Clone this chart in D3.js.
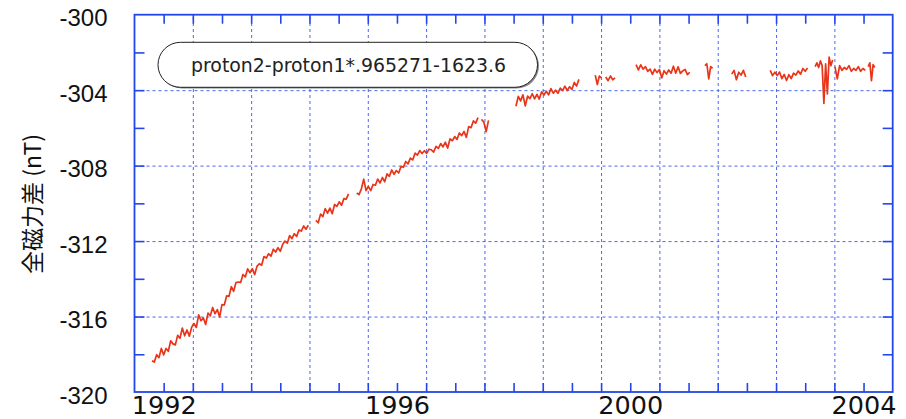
<!DOCTYPE html>
<html>
<head>
<meta charset="utf-8">
<script src="https://cdn.jsdelivr.net/npm/d3@7"></script>
<style>
  body { margin: 0; background: #fff; }
  svg { display: block; }
</style>
</head>
<body>
<div id="chart"></div>
<script>
// Chart data: total-field difference (nT), each run is start year, step (yr), values
var segA = [-318.35, -318.41, -318.02, -318.18, -317.69, -318.03, -317.69, -317.84, -317.29, -317.45,
            -317.50, -317.00, -317.15, -316.61, -317.02, -316.71, -317.04, -316.57, -316.37, -316.58,
            -315.91, -316.22, -316.07, -316.42, -315.82, -315.96, -315.52, -315.85, -315.63, -316.02,
            -315.37, -315.39, -314.90, -314.93, -314.42, -314.66, -314.20, -314.17, -314.19, -313.77,
            -313.90, -313.47, -313.68, -313.46, -313.78, -313.34, -313.20, -313.28, -312.82, -312.90,
            -312.67, -312.80, -312.43, -312.58, -312.35, -312.54, -312.18, -312.00, -312.11, -311.71,
            -311.87, -311.61, -311.75, -311.41, -311.47, -311.20, -311.37, -311.16];
var segB = [-310.90, -311.03, -310.57, -310.70, -310.28, -310.52, -310.25, -310.55, -310.06, -310.16,
            -309.92, -310.10, -309.75, -309.78, -309.50];
var segC = [-309.45, -309.54, -309.23, -308.72, -309.32, -309.10, -309.33, -309.00, -309.04, -308.71,
            -308.92, -308.63, -308.86, -308.44, -308.57, -308.23, -308.46, -308.26, -308.39, -308.04,
            -308.09, -307.78, -307.91, -307.60, -307.70, -307.34, -307.44, -307.20, -307.36, -307.21,
            -307.35, -307.13, -307.16, -307.28, -306.98, -307.09, -306.83, -307.01, -306.76, -307.07,
            -306.58, -306.68, -306.46, -306.61, -306.27, -306.41, -306.19, -306.50, -305.93, -305.99,
            -305.63, -305.75, -305.46];
var segD = [-305.55, -305.70, -306.20, -305.60];
var segE = [-304.85, -304.33, -304.57, -304.25, -304.83, -304.32, -304.45, -304.19, -304.46, -304.22,
            -304.47, -304.09, -304.26, -304.06, -304.25, -303.92, -304.16, -304.00, -304.17, -303.89,
            -304.02, -303.79, -304.02, -303.82, -303.96, -303.59, -303.78, -303.43];
var segF = [-303.20, -303.70, -303.25, -303.35];
var segG = [-303.30, -303.50, -303.25, -303.45, -303.35];
var segH = [-302.65, -302.93, -302.66, -302.89, -302.75, -303.00, -302.88, -303.16, -302.89, -303.07,
            -302.90, -303.35, -302.97, -303.15, -302.93, -303.10, -302.73, -303.10, -302.76, -303.11,
            -302.98, -302.90, -303.18, -303.05];
var segI = [-302.70, -302.60, -303.40, -302.75, -302.85];
var segJ = [-303.15, -302.95, -303.45, -303.05, -303.20, -302.95, -303.30];
var segK = [-302.95, -303.23, -303.05, -303.23, -303.04, -303.39, -303.17, -303.49, -303.18, -303.39,
            -303.10, -303.20, -302.98, -303.15, -302.85, -303.00, -302.82];
var segL = [-302.75, -302.55, -302.80, -302.45, -302.70, -304.70, -302.60, -304.20, -302.25, -302.70, -302.40];
var segM = [-302.75, -303.40, -302.70, -302.95, -302.80, -302.90, -302.70, -303.00, -302.85, -302.95,
            -302.75, -303.00, -302.85, -302.95];
var segN = [-302.75, -302.55, -303.50, -302.65, -302.80];

var segStarts = [1992.30, 1995.11, 1995.81, 1997.95, 1998.54, 1999.90, 2000.08, 2000.60, 2001.78, 2002.24, 2002.90, 2003.67, 2004.01, 2004.58];
var segSteps  = [0.04, 0.04, 0.04, 0.04, 0.04, 0.035, 0.04, 0.04, 0.033, 0.04, 0.04, 0.03, 0.04, 0.028];
var segValues = [segA, segB, segC, segD, segE, segF, segG, segH, segI, segJ, segK, segL, segM, segN];

var yearLabels = [1992, 1996, 2000, 2004];
var yLabels = [-300, -304, -308, -312, -316, -320];
var yGrid = [-304, -308, -312, -316];
var legendText = "proton2-proton1*.965271-1623.6";
var yTitle = "全磁力差 (nT)";

var margin = { top: 14.7, right: 13.3, bottom: 27, left: 134.5 };
var w = 906 - margin.left - margin.right;
var h = 419 - margin.top - margin.bottom;

var blue = "#2346ea";
var gridBlue = "#4a68ee";

function drawChart() {
  var x = d3.scaleLinear().domain([1992, 2005]).range([0, w]);
  var y = d3.scaleLinear().domain([-320, -300]).range([h, 0]);

  var svg = d3.select("#chart").append("svg")
    .attr("width", 906)
    .attr("height", 419);

  var g = svg.append("g")
    .attr("transform", "translate(" + margin.left + "," + margin.top + ")");

  // dashed grid
  var gx = g.append("g")
    .attr("transform", "translate(0," + h + ")")
    .call(d3.axisBottom(x).tickValues(d3.range(1993, 2005)).tickSize(-h).tickFormat(""));
  var gy = g.append("g")
    .call(d3.axisLeft(y).tickValues(yGrid).tickSize(-w).tickFormat(""));
  [gx, gy].forEach(function (a) {
    a.select(".domain").remove();
    a.selectAll("line")
      .attr("stroke", gridBlue)
      .attr("stroke-width", 1)
      .attr("stroke-dasharray", "3,3");
  });

  // data runs
  var line = d3.line()
    .x(function (d) { return x(d.t); })
    .y(function (d) { return y(d.v); });

  var runs = segValues.map(function (vals, k) {
    return vals.map(function (v, i) {
      return { t: segStarts[k] + i * segSteps[k], v: v };
    });
  });

  g.selectAll(".run")
    .data(runs)
    .enter()
    .append("path")
    .attr("class", "run")
    .attr("d", line)
    .attr("fill", "none")
    .attr("stroke", "#e8351a")
    .attr("stroke-width", 1.7)
    .attr("stroke-linejoin", "round");

  // legend box
  var lg = svg.append("g");
  lg.append("rect")
    .attr("x", 159.5).attr("y", 43.5)
    .attr("width", 379.5).attr("height", 45)
    .attr("rx", 22.5)
    .attr("fill", "#888");
  lg.append("rect")
    .attr("x", 158).attr("y", 42.3)
    .attr("width", 379.5).attr("height", 45)
    .attr("rx", 22.5)
    .attr("fill", "#fff")
    .attr("stroke", "#222")
    .attr("stroke-width", 1);
  lg.append("text")
    .attr("x", 348.5).attr("y", 71.5)
    .attr("text-anchor", "middle")
    .style("font-family", "'DejaVu Sans', sans-serif")
    .style("font-size", "18.9px")
    .attr("fill", "#222")
    .text(legendText);

  // frame
  g.append("rect")
    .attr("width", w).attr("height", h)
    .attr("fill", "none")
    .attr("stroke", blue)
    .attr("stroke-width", 1.8);

  // inward ticks on all four sides
  var halfYears = d3.range(1992.5, 2005, 0.5);
  var yMinor = d3.range(-318, -300, 2);
  var tickAxes = [
    g.append("g").attr("transform", "translate(0," + h + ")")
      .call(d3.axisBottom(x).tickValues(halfYears).tickSize(-9).tickFormat("")),
    g.append("g")
      .call(d3.axisTop(x).tickValues(halfYears).tickSize(-9).tickFormat("")),
    g.append("g")
      .call(d3.axisLeft(y).tickValues(yMinor).tickSize(-10).tickFormat("")),
    g.append("g").attr("transform", "translate(" + w + ",0)")
      .call(d3.axisRight(y).tickValues(yMinor).tickSize(-10).tickFormat(""))
  ];
  tickAxes.forEach(function (a) {
    a.select(".domain").remove();
    a.selectAll("line").attr("stroke", blue).attr("stroke-width", 1.6);
  });

  // y tick labels
  var yl = g.append("g")
    .call(d3.axisLeft(y).tickValues(yLabels).tickSize(0).tickPadding(27)
      .tickFormat(function (d) { return String(d); }));
  yl.select(".domain").remove();
  yl.selectAll("text")
    .attr("dy", null)
    .attr("y", 11)
    .style("font-family", "'Liberation Sans', Arial, sans-serif")
    .style("font-size", "24px")
    .attr("fill", "#111");

  // x labels, centred in the year they name
  var xl = g.append("g")
    .attr("transform", "translate(0," + h + ")")
    .call(d3.axisBottom(x)
      .tickValues(yearLabels.map(function (d) { return d + 0.5; }))
      .tickSize(0)
      .tickFormat(function (d) { return String(d - 0.5); }));
  xl.select(".domain").remove();
  xl.selectAll("text")
    .attr("dy", null)
    .attr("y", 21.5)
    .style("font-family", "'DejaVu Sans', sans-serif")
    .style("font-size", "25.5px")
    .attr("fill", "#111");

  // y title
  svg.append("text")
    .attr("transform", "translate(41,204) rotate(-90)")
    .attr("text-anchor", "middle")
    .style("font-family", "'Noto Sans CJK JP', sans-serif")
    .style("font-size", "23px")
    .attr("fill", "#111")
    .text(yTitle);
}

window.onload = function () {
  drawChart();
};
</script>
</body>
</html>
